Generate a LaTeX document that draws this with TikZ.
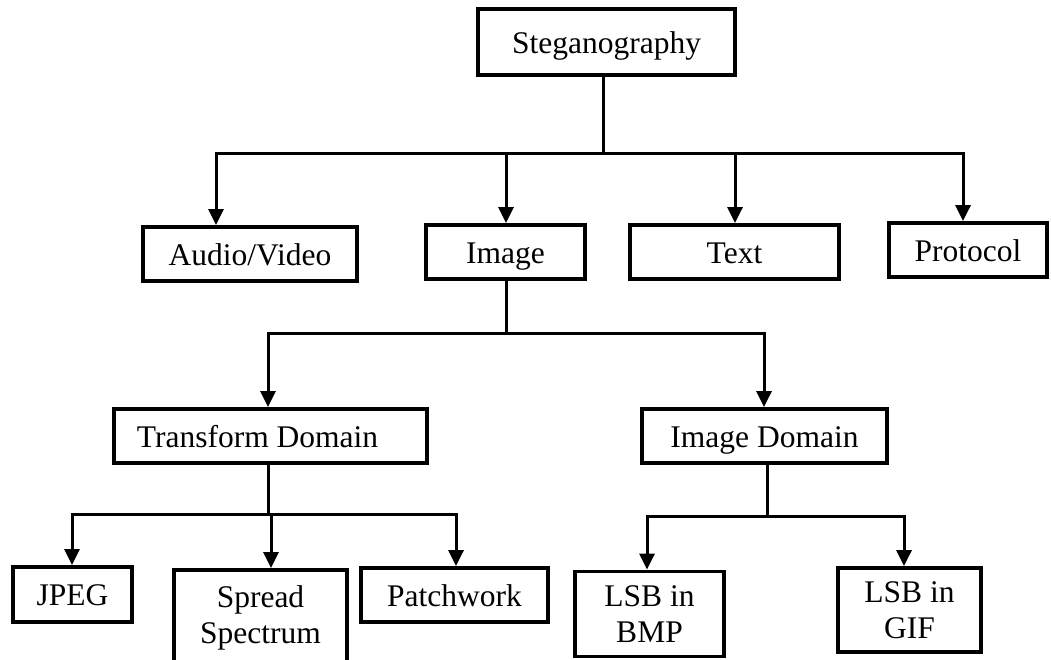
\documentclass[tikz,border=0pt]{standalone}
\usepackage{fontspec}
\setmainfont{Liberation Serif}
\usetikzlibrary{arrows.meta}
\begin{document}
\begin{tikzpicture}[x=1pt,y=-1pt,
  box/.style={draw, line width=3.8pt, inner sep=0pt, align=center,
    font=\fontsize{31.5}{36}\selectfont},
  onebox/.style={box, text height=22pt, text depth=0pt},
  conn/.style={line width=3pt, line cap=rect},
  arr/.style={conn, -{Triangle[width=15pt,length=16pt]}}]
\useasboundingbox (0,0) rectangle (1051,659);

% root
\node[onebox, minimum width=257pt, minimum height=66pt] (steg) at (606.5,42) {Steganography};

% first level
\node[onebox, minimum width=214pt, minimum height=54pt] (av)   at (250,254)   {Audio/Video};
\node[onebox, minimum width=159pt, minimum height=54pt] (img)  at (505.5,252) {Image};
\node[onebox, minimum width=209pt, minimum height=54pt] (txt)  at (734.5,252) {Text};
\node[onebox, minimum width=158pt, minimum height=54pt] (prot) at (968,250)   {Protocol};

% image sub-domains
\node[onebox, minimum width=313pt, minimum height=54pt] (tdom) at (270.5,436) {Transform Domain\hspace*{26pt}};
\node[onebox, minimum width=245pt, minimum height=54pt] (idom) at (764.5,436) {Image Domain};

% techniques
\node[onebox, minimum width=119pt, minimum height=55pt] (jpeg)   at (72.5,594.5) {JPEG};
\node[box, minimum width=173pt, minimum height=96pt] (spread) at (260.5,618)  {Spread\\Spectrum};
\node[onebox, minimum width=187pt, minimum height=54pt] (patch)  at (454.5,595)  {Patchwork};
\node[box, minimum width=149pt, minimum height=85pt] (bmp)    at (649.5,614) {LSB in\\BMP};
\node[box, minimum width=143pt, minimum height=84pt] (gif)    at (909.5,610)  {LSB in\\GIF};

% bus under the root
\coordinate (r0) at (603,153);
\coordinate (r1) at (216,153);
\coordinate (r2) at (506,153);
\coordinate (r3) at (735,153);
\coordinate (r4) at (963,153);
\draw[conn] (steg.south -| r0) -- (r0);
\draw[conn] (r1) -- (r4);
\draw[arr] (r1) -- (r1 |- av.north);
\draw[arr] (r2) -- (r2 |- img.north);
\draw[arr] (r3) -- (r3 |- txt.north);
\draw[arr] (r4) -- (r4 |- prot.north);

% bus under Image
\coordinate (i0) at (506,333);
\coordinate (i1) at (268,333);
\coordinate (i2) at (764,333);
\draw[conn] (img.south -| i0) -- (i0);
\draw[conn] (i1) -- (i2);
\draw[arr] (i1) -- (i1 |- tdom.north);
\draw[arr] (i2) -- (i2 |- idom.north);

% bus under Transform Domain
\coordinate (t0) at (268,514);
\coordinate (t1) at (72,514);
\coordinate (t2) at (271,514);
\coordinate (t3) at (456,514);
\draw[conn] (tdom.south -| t0) -- (t0);
\draw[conn] (t1) -- (t3);
\draw[arr] (t1) -- (t1 |- jpeg.north);
\draw[arr] (t2) -- (t2 |- spread.north);
\draw[arr] (t3) -- (t3 |- patch.north);

% bus under Image Domain
\coordinate (d0) at (767,516);
\coordinate (d1) at (647,516);
\coordinate (d2) at (904,516);
\draw[conn] (idom.south -| d0) -- (d0);
\draw[conn] (d1) -- (d2);
\draw[arr] (d1) -- (d1 |- bmp.north);
\draw[arr] (d2) -- (d2 |- gif.north);
\end{tikzpicture}
\end{document}
